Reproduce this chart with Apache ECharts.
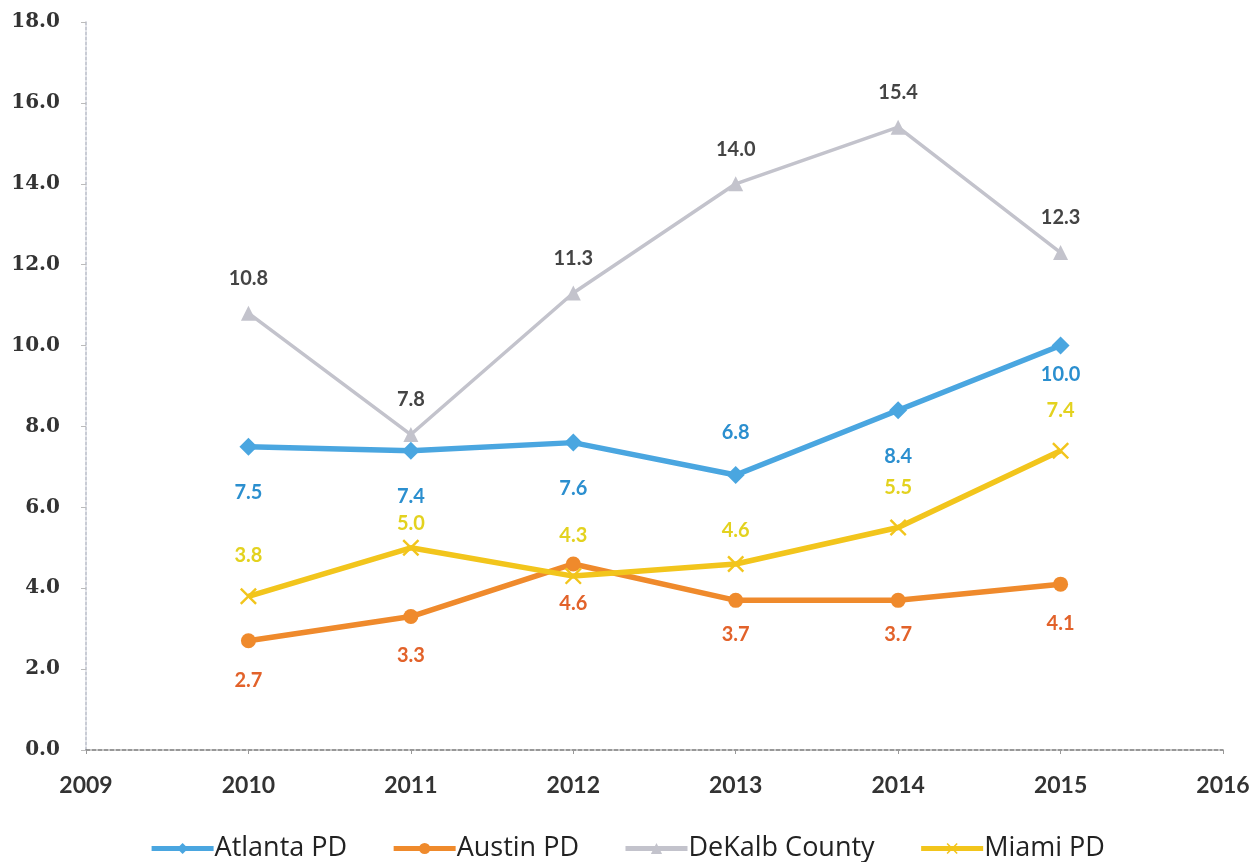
<!DOCTYPE html>
<html>
<head>
<meta charset="utf-8">
<style>
  html, body { margin: 0; padding: 0; background: #fff; }
  #chart { width: 1254px; height: 862px; }
</style>
<script src="https://cdn.jsdelivr.net/npm/echarts@6/dist/echarts.min.js"></script>
</head>
<body>
<div id="chart"></div>
<script>
// Years on the horizontal axis
const years = [2010, 2011, 2012, 2013, 2014, 2015];

// Rates per agency
const atlantaPD = [7.5, 7.4, 7.6, 6.8, 8.4, 10.0];
const austinPD = [2.7, 3.3, 4.6, 3.7, 3.7, 4.1];
const dekalbCounty = [10.8, 7.8, 11.3, 14.0, 15.4, 12.3];
const miamiPD = [3.8, 5.0, 4.3, 4.6, 5.5, 7.4];

const seriesNames = ['Atlanta PD', 'Austin PD', 'DeKalb County', 'Miami PD'];

// Axis ranges
const xMin = 2009, xMax = 2016, xStep = 1;
const yMin = 0, yMax = 18, yStep = 2;

const labelFont = 'Lato, "Open Sans", sans-serif';
const crossPath = 'path://M2,0 L10,8 L18,0 L20,2 L12,10 L20,18 L18,20 L10,12 L2,20 L0,18 L8,10 L0,2 Z';

// Per-series look and label placement (with a few per-point exceptions)
const styles = [
  { color: '#4aa6e0', label: '#2b8fcf', width: 5.5, symbol: 'diamond', size: 18,
    pos: 'bottom', dist: 27, except: { 3: ['top', 23], 5: ['bottom', 10] } },
  { color: '#ef8a2c', label: '#e2622a', width: 5.5, symbol: 'circle', size: 15,
    pos: 'bottom', dist: 22, except: { 3: ['bottom', 17], 4: ['bottom', 17] } },
  { color: '#c3c3cc', label: '#444444', width: 3.5, symbol: 'triangle', size: 15,
    pos: 'top', dist: 17, except: {} },
  { color: '#f2c51c', label: '#e3d21f', width: 5.5, symbol: crossPath, size: 17,
    pos: 'top', dist: 22, except: { 1: ['top', 6], 3: ['top', 15] } }
];

const values = [atlantaPD, austinPD, dekalbCounty, miamiPD];

const series = values.map((vals, si) => {
  const st = styles[si];
  return {
    name: seriesNames[si],
    type: 'line',
    symbol: st.symbol,
    symbolSize: st.size,
    z: si === 2 ? 1 : 2 + si,
    itemStyle: { color: st.color },
    lineStyle: { color: st.color, width: st.width },
    label: {
      show: true,
      position: st.pos,
      distance: st.dist,
      color: st.label,
      fontFamily: labelFont,
      fontWeight: 'bold',
      fontSize: 20,
      formatter: p => p.value[1].toFixed(1)
    },
    data: years.map((yr, i) => {
      const item = { value: [yr, vals[i]] };
      const ex = st.except[i];
      if (ex) item.label = { position: ex[0], distance: ex[1] };
      return item;
    })
  };
});

const chart = echarts.init(document.getElementById('chart'), null, { renderer: 'canvas' });
chart.setOption({
  backgroundColor: '#ffffff',
  animation: false,
  grid: { left: 86, right: 31, top: 22, bottom: 112, containLabel: false },
  xAxis: {
    type: 'value',
    min: xMin, max: xMax, interval: xStep,
    axisLine: { show: true, lineStyle: { color: '#777', width: 1.5, type: [4, 2] } },
    axisTick: { show: true, length: 4, lineStyle: { color: '#999' } },
    splitLine: { show: false },
    axisLabel: {
      margin: 24,
      color: '#333',
      fontFamily: labelFont,
      fontWeight: 'bold',
      fontSize: 23,
      formatter: v => String(v)
    }
  },
  yAxis: {
    type: 'value',
    min: yMin, max: yMax, interval: yStep,
    axisLine: { show: true, lineStyle: { color: '#b8bcc8', width: 1.5, type: [3, 2] } },
    axisTick: { show: true, length: 5, inside: false, lineStyle: { color: '#bbb' } },
    splitLine: { show: false },
    axisLabel: {
      margin: 26,
      color: '#333',
      fontFamily: '"DejaVu Serif", serif',
      fontWeight: 'bold',
      fontSize: 20,
      formatter: v => v.toFixed(1)
    }
  },
  legend: {
    data: seriesNames,
    top: 830,
    left: 'center',
    itemWidth: 62,
    itemHeight: 14,
    itemGap: 44,
    lineStyle: { width: 5 },
    textStyle: { fontFamily: '"Open Sans", sans-serif', fontSize: 27, color: '#222', padding: [0, 0, 0, -4] }
  },
  series: series
});
</script>
</body>
</html>
